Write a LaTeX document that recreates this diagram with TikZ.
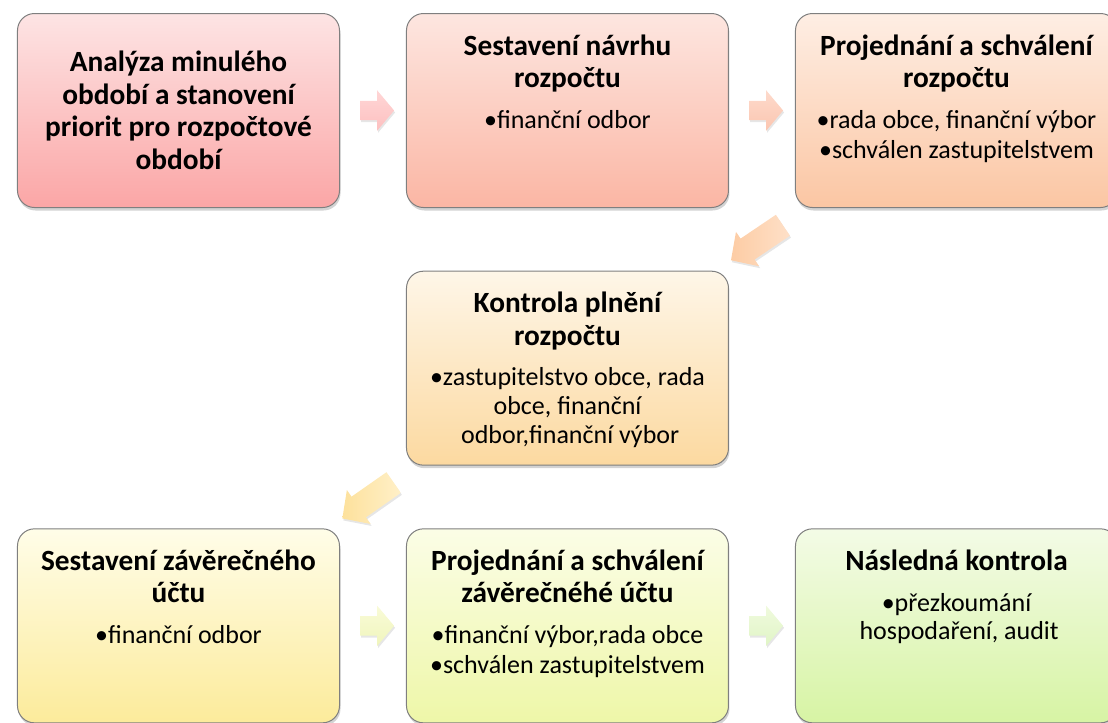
\documentclass[tikz,border=0pt]{standalone}
\usepackage{fontspec}
\setmainfont{Carlito}
\usepackage{xcolor}
\usetikzlibrary{matrix, calc, shapes.arrows, shadows}

\definecolor{stageline}{HTML}{7F7F7F}
\definecolor{sAtop}{HTML}{FDE4E4}\definecolor{sAbot}{HTML}{FBA6A6}
\definecolor{sBtop}{HTML}{FDE6E0}\definecolor{sBbot}{HTML}{FBB6A4}
\definecolor{sCtop}{HTML}{FEEEE4}\definecolor{sCbot}{HTML}{FBC6A3}
\definecolor{sDtop}{HTML}{FEF6E8}\definecolor{sDbot}{HTML}{FCD9A0}
\definecolor{sEtop}{HTML}{FFFDE8}\definecolor{sEbot}{HTML}{FCEB9B}
\definecolor{sFtop}{HTML}{FBFDE6}\definecolor{sFbot}{HTML}{EEF7A8}
\definecolor{sGtop}{HTML}{F3FBE6}\definecolor{sGbot}{HTML}{D7F4A4}
\definecolor{fAtop}{HTML}{FFD6D6}\definecolor{fAbot}{HTML}{FDC0C0}
\definecolor{fBtop}{HTML}{FDDACC}\definecolor{fBbot}{HTML}{FCC6B0}
\definecolor{fCtop}{HTML}{FEE0C8}\definecolor{fCbot}{HTML}{FDCCA4}
\definecolor{fDtop}{HTML}{FFF0C8}\definecolor{fDbot}{HTML}{FDE19C}
\definecolor{fEtop}{HTML}{F9FBD8}\definecolor{fEbot}{HTML}{F0F5BC}
\definecolor{fFtop}{HTML}{F0FADE}\definecolor{fFbot}{HTML}{E0F5C6}

\newcommand{\stagehead}[1]{{\fontsize{22}{24.4}\selectfont\bfseries #1\par}}
\newcommand{\stageitem}[1]{{\fontsize{19.5}{21.5}\selectfont •#1\par}\vspace{1pt}}
\newcommand{\stagebody}[2]{\parbox[c][140pt][t]{232pt}{\centering\vspace*{13pt}\stagehead{#1}\vspace{9pt}#2}}
\newcommand{\stageonly}[1]{\parbox[c][140pt][c]{232pt}{\centering\stagehead{#1}}}

\begin{document}
\begin{tikzpicture}[
  stage/.style={draw=stageline, line width=0.75pt, rounded corners=12.75pt,
    minimum width=241.5pt, minimum height=145.5pt, inner sep=0pt, outer sep=0pt,
    anchor=center,
    drop shadow={shadow xshift=0.75pt, shadow yshift=-2.25pt, opacity=0.35}},
  flow/.style={single arrow, draw=none, inner xsep=0pt, inner ysep=7.1pt, outer sep=0pt,
    minimum height=25.5pt,
    single arrow head extend=7.9pt, single arrow tip angle=100,
    drop shadow={shadow xshift=0.75pt, shadow yshift=-1.5pt, opacity=0.2}},
  slant/.style={flow, minimum height=47pt, inner ysep=9.25pt,
    single arrow head extend=6.1pt, single arrow tip angle=92}]
\useasboundingbox (0,0) rectangle (831pt,-541.5pt);
\clip (0,0) rectangle (831pt,-541.5pt);
\matrix (plan) [matrix of nodes, anchor=north west, inner sep=0pt, outer sep=0pt,
         column sep=49.5pt, row sep=47pt, nodes={stage}] at (12.75pt,-9.75pt)
%
{
|[top color=sAtop, bottom color=sAbot](s1)| \stageonly{Analýza minulého\\ období a stanovení\\ priorit pro rozpočtové\\ období}
 & |[top color=sBtop, bottom color=sBbot](s2)| \stagebody{Sestavení návrhu\\ rozpočtu}{\stageitem{finanční odbor}}
 & |[top color=sCtop, bottom color=sCbot](s3)| \stagebody{Projednání a schválení\\ rozpočtu}{\stageitem{rada obce, finanční výbor}\stageitem{schválen zastupitelstvem}} \\
 & |[top color=sDtop, bottom color=sDbot](s4)| \stagebody{Kontrola plnění\\ rozpočtu}{\stageitem{zastupitelstvo obce, rada\\ obce, finanční\\ \hspace*{4pt}odbor,finanční výbor}}
 & \\
|[top color=sEtop, bottom color=sEbot](s5)| \stagebody{Sestavení závěrečného\\ účtu}{\stageitem{finanční odbor}}
 & |[top color=sFtop, bottom color=sFbot](s6)| \stagebody{Projednání a schválení\\ závěrečnéhé účtu}{\stageitem{finanční výbor,rada obce}\stageitem{schválen zastupitelstvem}}
 & |[top color=sGtop, bottom color=sGbot](s7)| \stagebody{Následná kontrola}{\stageitem{přezkoumání\\ \hspace*{4pt}hospodaření, audit}} \\
};
%
\node[flow, top color=fAtop, bottom color=fAbot] (a12) at ($(s1.east)!0.5!(s2.west)$) {};
\node[flow, top color=fBtop, bottom color=fBbot] (a23) at ($(s2.east)!0.5!(s3.west)$) {};
\node[slant, rotate=214, left color=fCbot, right color=fCtop] (a34) at ($(s3.south west)!0.5!(s4.north east)$) {};
\node[slant, rotate=215, left color=fDbot, right color=fDtop] (a45) at ($(s4.south west)!0.5!(s5.north east)$) {};
\node[flow, top color=fEtop, bottom color=fEbot] (a56) at ($(s5.east)!0.5!(s6.west)$) {};
\node[flow, top color=fFtop, bottom color=fFbot] (a67) at ($(s6.east)!0.5!(s7.west)$) {};
%
\end{tikzpicture}
\end{document}
